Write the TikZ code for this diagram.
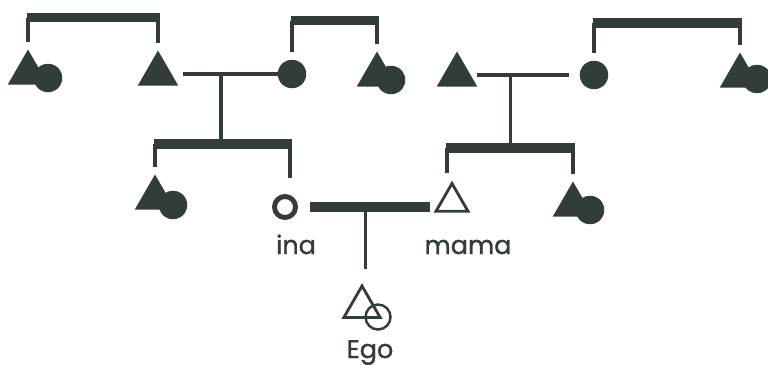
\documentclass[tikz,border=0pt]{standalone}
\usepackage{fontspec}
\setmainfont{Poppins}[FakeBold=1.2]
\usetikzlibrary{shapes.geometric,calc}
\definecolor{ink}{RGB}{50,60,57}

\begin{document}
\begin{tikzpicture}[
        x=0.02cm, y=-0.02cm,
        font=\fontsize{14.5}{17}\selectfont, text=ink,
        male/.style={regular polygon, regular polygon sides=3, fill=ink,
                     minimum size=0.94cm, inner sep=0pt, outer sep=0pt},
        female/.style={circle, fill=ink, minimum size=0.57cm,
                       inner sep=0pt, outer sep=0pt},
        openmale/.style={regular polygon, regular polygon sides=3, draw=ink,
                         line width=1.6pt, inner sep=0pt},
        openfemale/.style={circle, draw=ink, inner sep=0pt},
        bar/.style={draw=ink, line width=5.2pt,
                    shorten <=-0.03cm, shorten >=-0.03cm},
        leg/.style={draw=ink, line width=1.8pt, shorten >=0.16cm},
        line/.style={draw=ink, line width=1.8pt},
      ]
        \useasboundingbox (0,0) rectangle (768,365);

        % sibling pairs of either sex
        \foreach \n/\x/\y/\cx/\cy in {mfsib/28/73/48/78, mmsib/377/75/391/80,
            fmsib/740/76/757/79, msib/155/198/173/205, fsib/573/205/590/210} {
          \node[male] (\n) at (\x,\y) {};
          \node[female] (\n-c) at (\cx,\cy) {};
        }
        \foreach \n/\x/\y in {mf/158/74, ff/457/75} {
          \node[male] (\n) at (\x,\y) {};
        }
        \foreach \n/\x/\y in {mm/292/74, fm/594/75} {
          \node[female] (\n) at (\x,\y) {};
        }

        \node[openfemale, line width=2.8pt, minimum size=0.42cm] (ina) at (285,207) {};
        \node[openmale, minimum size=0.74cm] (mama) at (452,202) {};
        \node[openmale, minimum size=0.84cm] (ego) at (362,307) {};
        \node[openfemale, line width=1.4pt, minimum size=0.5cm] (ego-c) at (378,317) {};

        \node[anchor=base] (ina-l) at (296,254) {ina};
        \node[anchor=base] (mama-l) at (468,254) {mama};
        \node[anchor=base] (ego-l) at (370,358) {Ego};

        % sibling bars
        \coordinate (sib1) at (0,17.5);
        \coordinate (sib2) at (0,20.5);
        \coordinate (sib3) at (0,23);
        \coordinate (sib4) at (0,144);
        \coordinate (sib5) at (0,148);

        \draw[bar] (mfsib.north |- sib1) -- (mf.north |- sib1);
        \draw[leg] (mfsib.north |- sib1) -- (mfsib.north);
        \draw[leg] (mf.north |- sib1) -- (mf.north);

        \draw[bar] (mm.north |- sib2) -- (mmsib.north |- sib2);
        \draw[leg] (mm.north |- sib2) -- (mm.north);
        \draw[leg] (mmsib.north |- sib2) -- (mmsib.north);

        \draw[bar] (fm.north |- sib3) -- (fmsib.north |- sib3);
        \draw[leg] (fm.north |- sib3) -- (fm.north);
        \draw[leg] (fmsib.north |- sib3) -- (fmsib.north);

        \draw[bar] (msib.north |- sib4) -- ([xshift=0.1cm]ina.north |- sib4);
        \draw[leg] (msib.north |- sib4) -- (msib.north);
        \draw[leg, shorten >=0.32cm] ([xshift=0.1cm]ina.north |- sib4) -- ([xshift=0.1cm]ina.north);

        \draw[bar] ([xshift=-0.1cm]mama.north |- sib5) -- (fsib.north |- sib5);
        \draw[leg] ([xshift=-0.1cm]mama.north |- sib5) -- ([xshift=-0.1cm]mama.north);
        \draw[leg] (fsib.north |- sib5) -- (fsib.north);

        % marriages and descent
        \draw[line, shorten <=0.22cm] (mf) -- (mm);
        \coordinate (mfm) at ($(mf)!0.47!(mm)$);
        \draw[line] (mfm) -- (mfm |- sib4);

        \draw[line, shorten <=0.12cm, shorten >=0.22cm] (ff) -- (fm);
        \coordinate (ffm) at ($(ff)!0.39!(fm)$);
        \draw[line] (ffm) -- (ffm |- sib5);

        \draw[bar, shorten <=0.25cm, shorten >=0.44cm] (ina) -- (ina -| mama);
        \coordinate (im) at ($(ina)!0.48!(ina -| mama)$);
        \draw[line, shorten >=0.28cm] (im) -- (im |- ego.north);
      \end{tikzpicture}
\end{document}
